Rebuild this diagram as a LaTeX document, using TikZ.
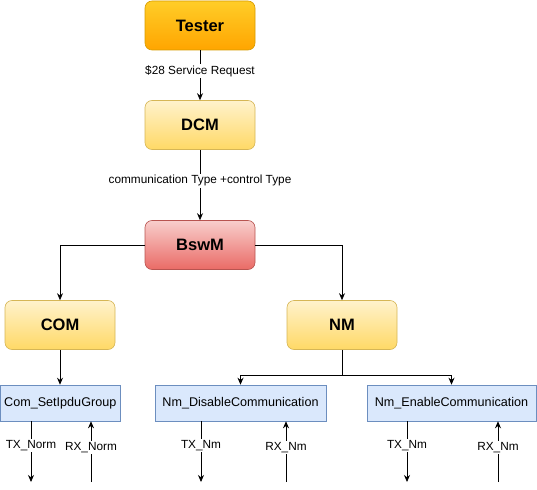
\documentclass[tikz,border=0pt]{standalone}
\usepackage{fontspec}
\setmainfont{Liberation Sans}
\usetikzlibrary{arrows.meta,calc}

\definecolor{testertop}{HTML}{FFCD28}
\definecolor{testerbot}{HTML}{FFA500}
\definecolor{testerline}{HTML}{D79B00}
\definecolor{yeltop}{HTML}{FFF2CC}
\definecolor{yelbot}{HTML}{FFD966}
\definecolor{yelline}{HTML}{D6B656}
\definecolor{redtop}{HTML}{F8CECC}
\definecolor{redbot}{HTML}{EA6B66}
\definecolor{redline}{HTML}{B85450}
\definecolor{apifill}{HTML}{DAE8FC}
\definecolor{apiline}{HTML}{6C8EBF}

\begin{document}
\begin{tikzpicture}[x=1pt,y=-1pt,line width=0.8pt,
  arr/.style={-{Stealth[length=7pt,width=6pt]}}]

    % `module' is used for the big rounded boxes.
    % `api' is used for the service calls at the bottom.
    % `sig' is used for the small texts on the lines.
    \tikzstyle{module} = [draw,rounded corners=7pt,minimum width=110pt,minimum height=49pt,
        font=\fontsize{16.5}{19}\selectfont\bfseries,line width=0.6pt]
    \tikzstyle{api} = [draw=apiline,fill=apifill,minimum height=36pt,inner sep=0pt,
        font=\fontsize{12.6}{14}\selectfont,line width=0.6pt]
    \tikzstyle{sig} = [fill=white,inner sep=1.5pt,font=\fontsize{11.8}{13}\selectfont]
    %
    \useasboundingbox (0,0) rectangle (537,489);

    % Modules.
    \node[module,draw=testerline,top color=testertop,bottom color=testerbot] (tester) at (200,25.5) {Tester};
    \node[module,draw=yelline,top color=yeltop,bottom color=yelbot] (dcm) at (200,125) {DCM};
    \node[module,draw=redline,top color=redtop,bottom color=redbot] (bswm) at (200,245) {BswM};
    \node[module,draw=yelline,top color=yeltop,bottom color=yelbot] (com) at (60,325) {COM};
    \node[module,draw=yelline,top color=yeltop,bottom color=yelbot] (nm) at (342,325) {NM};

    % Service calls.
    \node[api,minimum width=119.5pt] (setipdu) at (60.25,403) {Com\_SetIpduGroup};
    \node[api,minimum width=171pt] (nmdis) at (240.5,403) {Nm\_DisableCommunication};
    \node[api,minimum width=169pt] (nmen) at (451.5,403) {Nm\_EnableCommunication};

    % Top chain.
    \draw[arr] (tester) -- node[sig,pos=0.42] {\$28 Service Request} (dcm);
    \draw[arr] (dcm) -- node[sig,pos=0.44] {communication Type +control Type} (bswm);
    \draw[arr] (bswm.west) -| (com.north);
    \draw[arr] (bswm.east) -| (nm.north);
    \draw[arr] (com.south) -- (com.south |- setipdu.north);
    \coordinate (fork) at ($(nm.south)+(0,26)$);
    \draw (nm.south) -- (fork);
    \draw[arr] (fork) -| (nmdis.north);
    \draw[arr] (fork) -| (nmen.north);

    % Signals below the service calls.
    \coordinate (txnorm) at (31,482);
    \coordinate (rxnorm) at (91,482);
    \coordinate (txdis) at (201,482);
    \coordinate (rxdis) at (286,482);
    \coordinate (txen) at (407,482);
    \coordinate (rxen) at (498,482);
    \draw[arr] (setipdu.south -| txnorm) -- node[sig,pos=0.4] {TX\_Norm} (txnorm);
    \draw[arr] (rxnorm) -- node[sig,pos=0.57] {RX\_Norm} (setipdu.south -| rxnorm);
    \draw[arr] (nmdis.south -| txdis) -- node[sig,pos=0.4] {TX\_Nm} (txdis);
    \draw[arr] (rxdis) -- node[sig,pos=0.57] {RX\_Nm} (nmdis.south -| rxdis);
    \draw[arr] (nmen.south -| txen) -- node[sig,pos=0.4] {TX\_Nm} (txen);
    \draw[arr] (rxen) -- node[sig,pos=0.57] {RX\_Nm} (nmen.south -| rxen);
    %
\end{tikzpicture}
\end{document}
